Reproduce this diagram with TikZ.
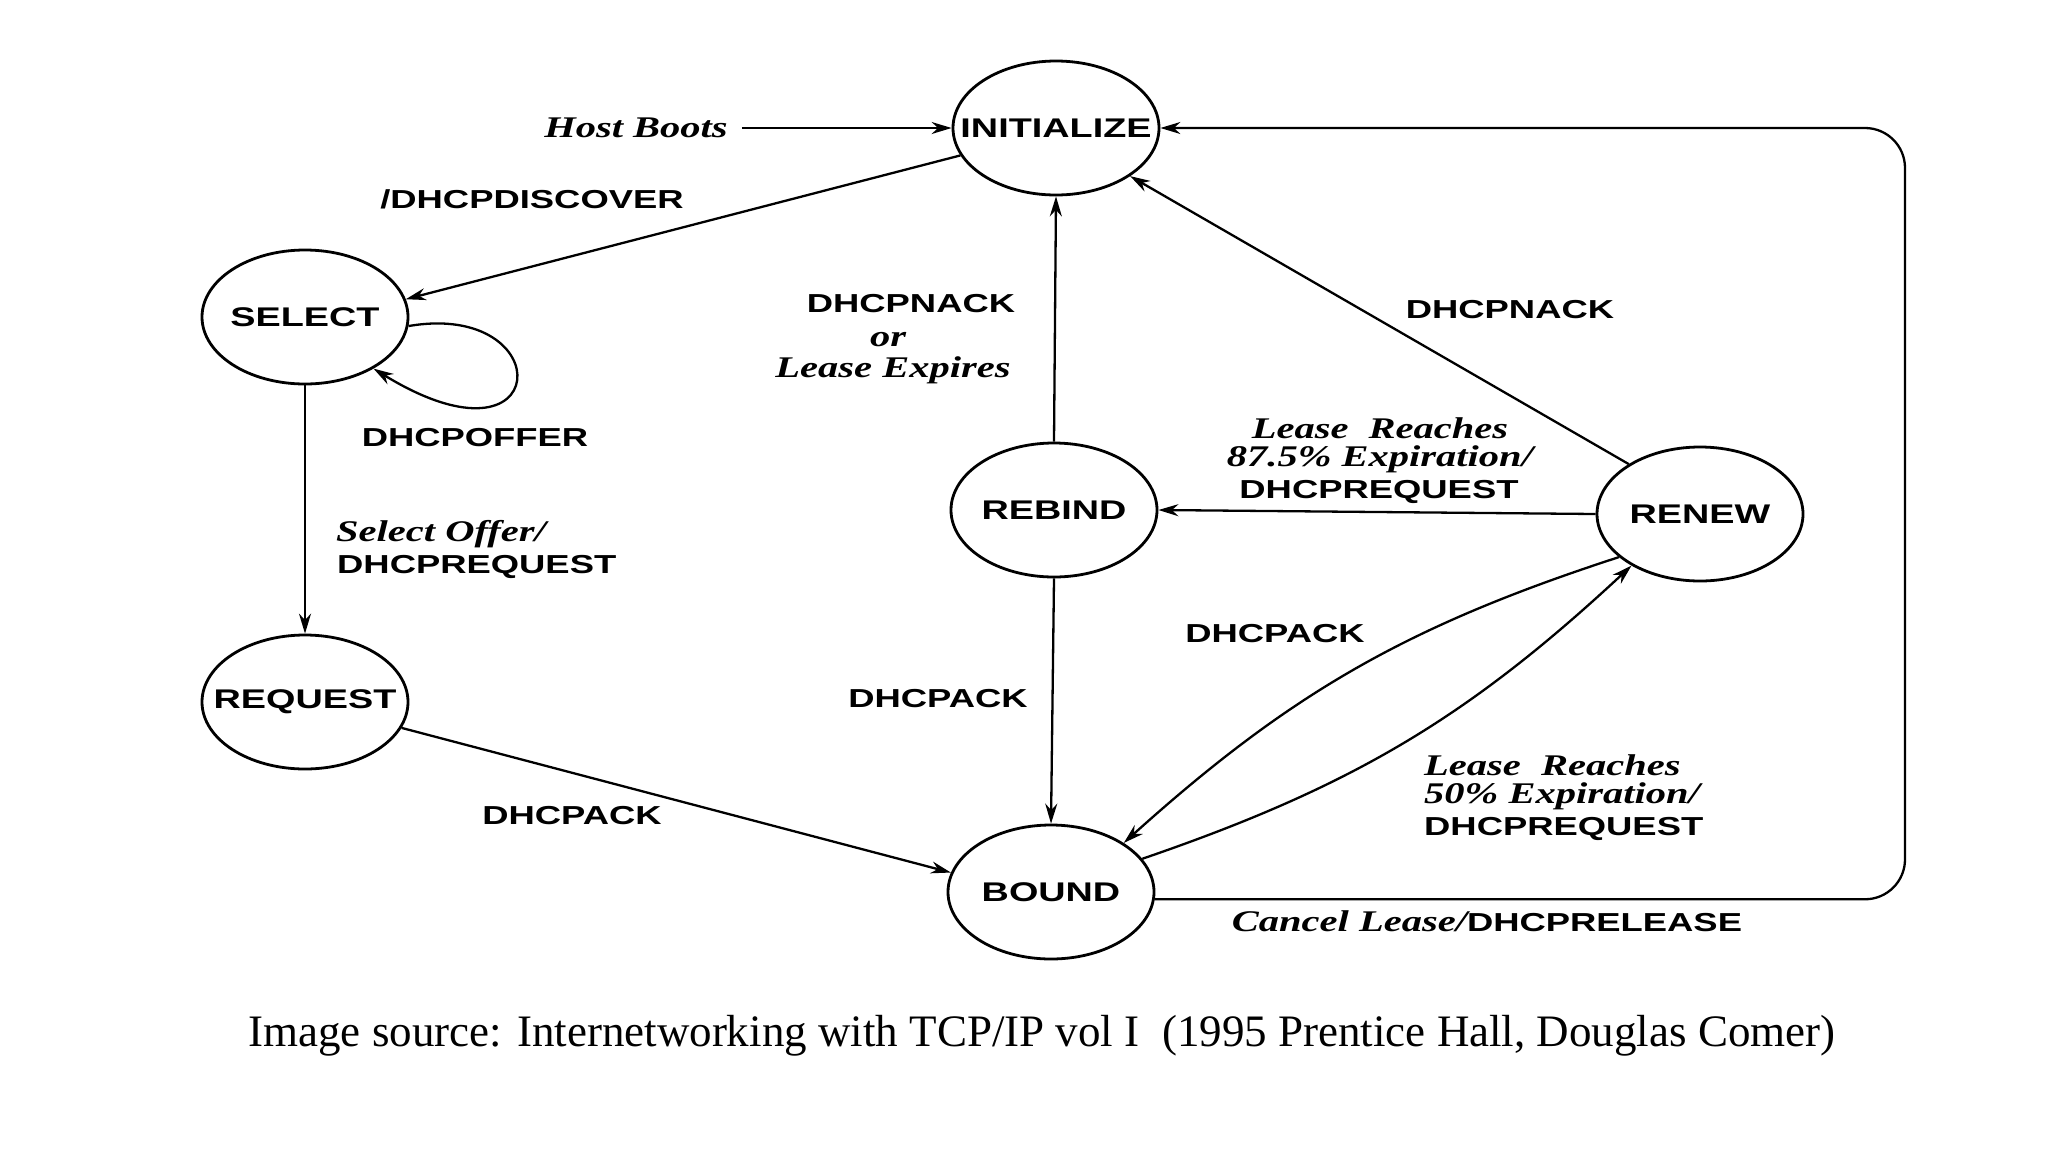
\documentclass[tikz,border=0pt]{standalone}
\usepackage{fontspec}
\setmainfont{Liberation Serif}
\newfontfamily\labf[FakeStretch=1.4]{Liberation Sans}
\newfontfamily\itf[FakeStretch=1.35]{Liberation Serif}
\usetikzlibrary{shapes.geometric,arrows.meta}
\newcommand\lbx[1]{{\labf\bfseries\fontsize{26}{31}\selectfont #1}}
\newcommand\itx[1]{{\itf\bfseries\itshape\fontsize{30}{33}\selectfont #1}}
\newcommand\stt[1]{\makebox[0pt]{#1}}
\tikzset{
  stnode/.style={ellipse,draw,line width=2.8pt,minimum width=206pt,minimum height=134pt,inner sep=0pt,
    font=\labf\bfseries\fontsize{27}{32}\selectfont},
  lab/.style={font=\labf\bfseries\fontsize{26}{31}\selectfont,inner sep=0pt},
  ilab/.style={font=\itf\bfseries\itshape\fontsize{30}{33}\selectfont,inner sep=0pt},
  arr/.style={line width=2.3pt,-{Stealth[length=20pt,width=12pt]}},
}
\begin{document}
\begin{tikzpicture}[x=1pt,y=-1pt]
\path[use as bounding box,fill=white] (0,0) rectangle (2048,1152);
% states
\node[stnode] (init) at (1056,128) {\stt{INITIALIZE}};
\node[stnode] (select) at (305,317) {\stt{SELECT}};
\node[stnode] (request) at (305,702) {\stt{REQUEST}};
\node[stnode] (rebind) at (1054,510) {\stt{REBIND}};
\node[stnode] (renew) at (1700,514) {\stt{RENEW}};
\node[stnode] (bound) at (1051,892) {\stt{BOUND}};
% labels
\node[ilab] (hb) at (636,128) {Host Boots};
\node[lab] (disc) at (532,199) {/DHCPDISCOVER};
\node[lab] (offer) at (475,438) {DHCPOFFER};
\node[ilab,anchor=west] (so1) at (336,534) {Select Offer/};
\node[lab,anchor=west] (so2) at (337,567) {DHCPREQUEST};
\node[lab] (ack1) at (572,816) {DHCPACK};
\node[lab] (nack1) at (911,304) {DHCPNACK};
\node[ilab] (or) at (888,340) {or};
\node[ilab] (le) at (893,370) {Lease Expires};
\node[lab] (nack2) at (1510,310) {DHCPNACK};
\node[ilab] (lr1) at (1380,428) {Lease\ \ Reaches};
\node[ilab] (ex1) at (1380,459) {87.5\% Expiration/};
\node[lab] (rq1) at (1379,492) {DHCPREQUEST};
\node[lab] (ack2) at (1275,634) {DHCPACK};
\node[lab] (ack3) at (938,699) {DHCPACK};
\node[ilab,anchor=west] (lr2) at (1424,765) {Lease\ \ Reaches};
\node[ilab,anchor=west] (ex2) at (1424,796) {50\% Expiration/};
\node[lab,anchor=west] (rq2) at (1424,829) {DHCPREQUEST};
\node[inner sep=0pt] (cl) at (1487,921) {\itx{Cancel Lease/}\lbx{DHCPRELEASE}};
\node[inner sep=0pt,font=\fontsize{45}{52}\selectfont] (cap) at (1042,1036)
  {Image source: Internetworking with TCP/IP vol I\ \ (1995 Prentice Hall, Douglas Comer)};
% connectors
\draw[arr,shorten <=14pt] (hb.east) -- (init.west);
\draw[arr] (init.196) -- (select.10);
\draw[arr] (select.-5) .. controls (560,300) and (555,480) .. (select.-37);
\draw[arr] (select.south) -- (request.north);
\draw[arr] (request.-15) -- (bound.169);
\draw[arr] (rebind.north) -- (init.south);
\draw[arr] (renew.145) -- (init.-33);
\draw[arr] (renew.west) -- (rebind.east);
\draw[arr] (rebind.south) -- (bound.north);
\draw[arr] (renew.208) to[bend right=12] (bound.34);
\draw[arr] (bound.20) to[bend right=12] (renew.217);
\coordinate (c1) at (1905,900);
\coordinate (c2) at (1905,128);
\draw[arr,rounded corners=40pt] (bound.-4) -- (bound.-4 -| c1) -- (c2) -- (init.east);
\end{tikzpicture}
\end{document}
